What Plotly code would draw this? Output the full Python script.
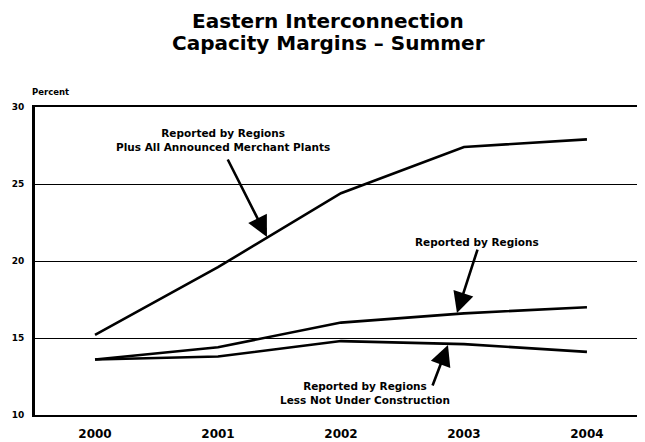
import plotly.graph_objects as go

years = [2000, 2001, 2002, 2003, 2004]
plus_merchant = [15.2, 19.6, 24.4, 27.4, 27.9]
reported = [13.6, 14.4, 16.0, 16.6, 17.0]
less_not_uc = [13.6, 13.8, 14.8, 14.6, 14.1]

y_ticks = [10, 15, 20, 25, 30]
x_ticks = [2000, 2001, 2002, 2003, 2004]

FONT = "DejaVu Sans"

# The page body has an 8px default margin, so the figure is sized to fit.
W, H = 637, 434
ML, MT, MB, MR = 27, 99, 27, 0
PW, PH = W - ML - MR, H - MT - MB


def px(fx):
    return (fx - ML) / PW


def py(fy):
    return (H - MB - fy) / PH


fig = go.Figure()
for vals in (plus_merchant, reported, less_not_uc):
    fig.add_trace(go.Scatter(x=years, y=vals, mode="lines",
                             line=dict(color="black", width=2.6),
                             showlegend=False, hoverinfo="skip"))

ann_font = dict(family=FONT, size=10.5, color="black", weight="bold")
title_font = dict(family=FONT, size=20, color="black", weight="bold")
arrow = dict(xref="x", yref="y", axref="x", ayref="y", showarrow=True,
             arrowhead=2, arrowsize=1.6, arrowwidth=2.6, arrowcolor="black",
             text="")

annotations = [
    dict(x=px(320), y=py(13), xref="paper", yref="paper", showarrow=False,
         text="Eastern Interconnection", font=title_font,
         xanchor="center", yanchor="middle"),
    dict(x=px(320), y=py(35), xref="paper", yref="paper", showarrow=False,
         text="Capacity Margins – Summer", font=title_font,
         xanchor="center", yanchor="middle"),
    dict(x=2001.04, y=27.86, xref="x", yref="y", showarrow=False,
         text="Reported by Regions<br>Plus All Announced Merchant Plants",
         font=ann_font, align="center", xanchor="center", yanchor="middle"),
    dict(x=2001.398, y=21.56, ax=2001.073, ay=26.69, **arrow),
    dict(x=2003.106, y=21.23, xref="x", yref="y", showarrow=False,
         text="Reported by Regions", font=ann_font,
         xanchor="center", yanchor="middle"),
    dict(x=2002.943, y=16.62, ax=2003.114, ay=20.84, **arrow),
    dict(x=2002.195, y=11.43, xref="x", yref="y", showarrow=False,
         text="Reported by Regions<br>Less Not Under Construction",
         font=ann_font, align="center", xanchor="center", yanchor="middle"),
    dict(x=2002.87, y=14.55, ax=2002.74, ay=11.82, **arrow),
    dict(x=px(42), y=py(84), xref="paper", yref="paper",
         showarrow=False, text="Percent", xanchor="center", yanchor="middle",
         font=dict(family=FONT, size=8.5, color="black", weight="bold")),
]

fig.update_layout(
    width=W, height=H,
    margin=dict(l=ML, r=MR, t=MT, b=MB, autoexpand=False),
    paper_bgcolor="white", plot_bgcolor="white",
    annotations=annotations,
    xaxis=dict(range=[1999.512, 2004.472], tickvals=x_ticks,
               ticktext=[str(v) for v in x_ticks],
               showgrid=False, zeroline=False,
               showline=True, linecolor="black", linewidth=2.2, mirror=True,
               ticks="", ticklabelstandoff=6,
               tickfont=dict(family=FONT, size=12, color="black", weight="bold")),
    yaxis=dict(range=[10, 30], tickvals=y_ticks,
               ticktext=[str(v) for v in y_ticks],
               showgrid=True, gridcolor="black", gridwidth=1.3,
               zeroline=False, showline=True, linecolor="black", linewidth=2.6,
               ticks="", ticklabelstandoff=6,
               tickfont=dict(family=FONT, size=9, color="black", weight="bold")),
)

fig.write_html("out.html")
